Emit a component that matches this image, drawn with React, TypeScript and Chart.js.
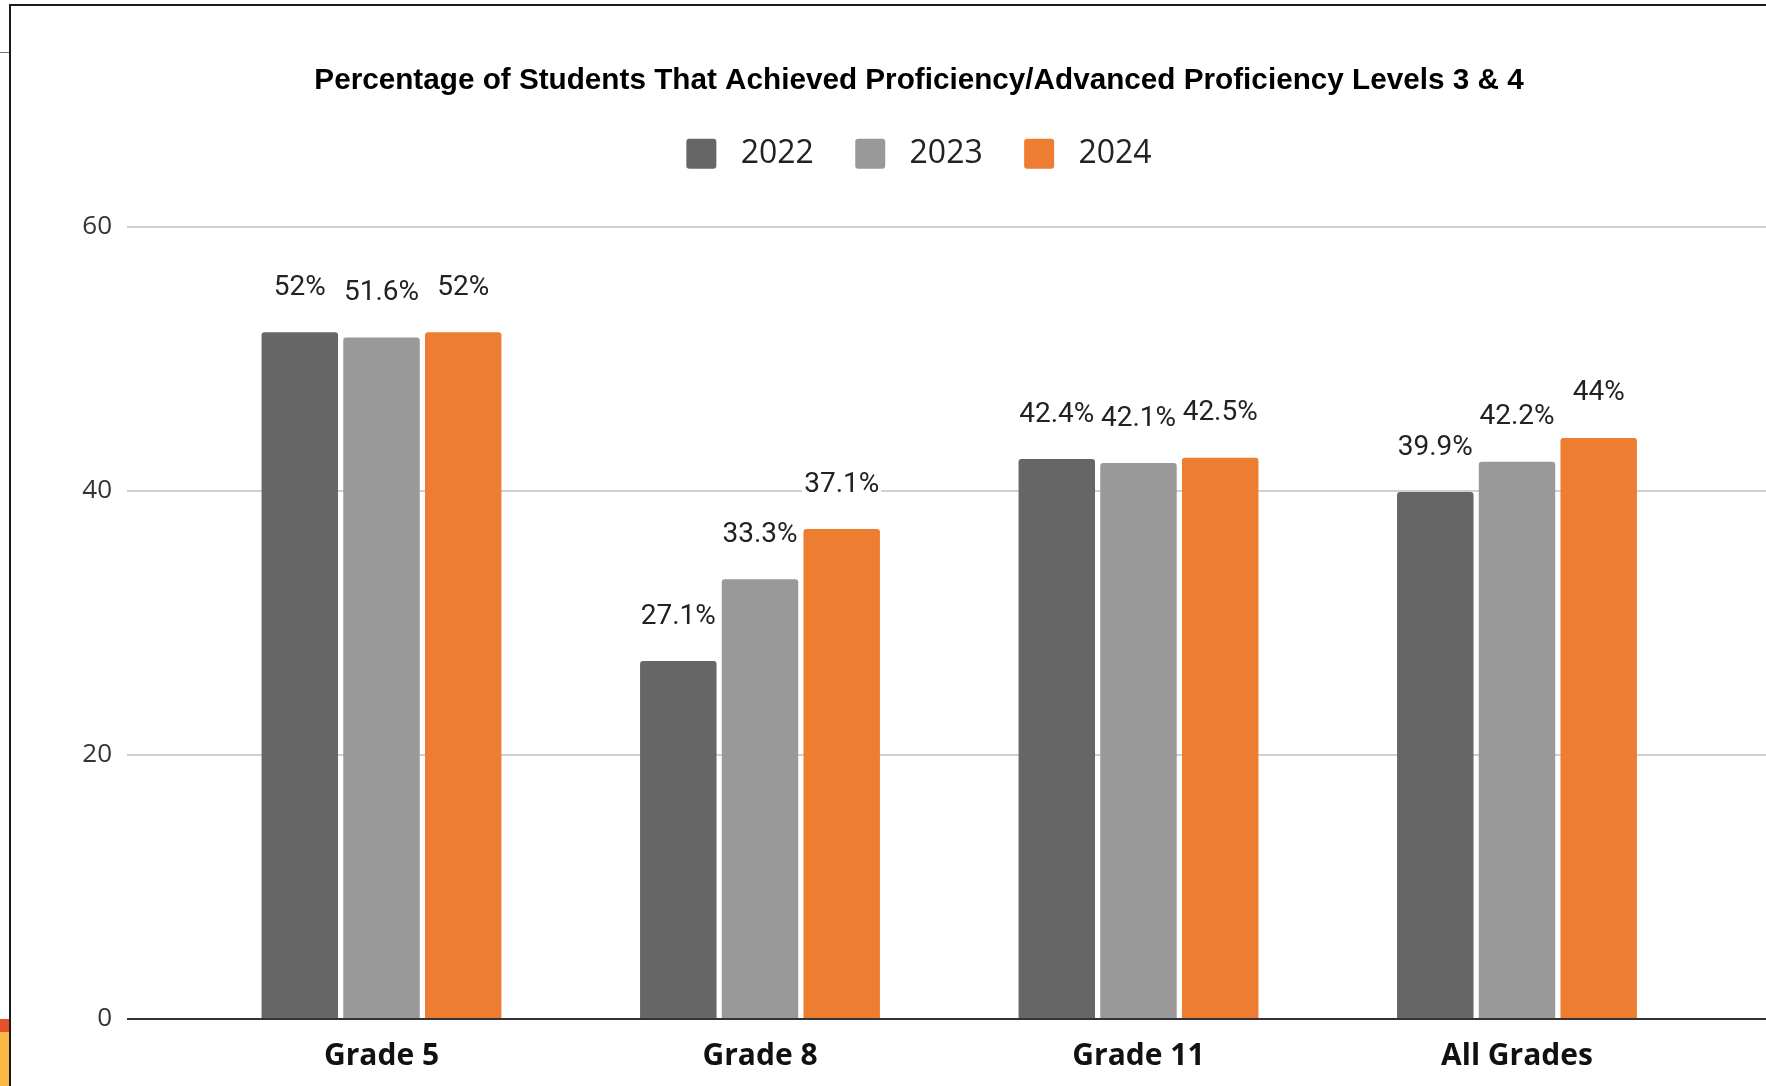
import React, { useEffect, useRef } from "react";
import { Chart, registerables } from "chart.js";

Chart.register(...registerables);

const chartTitle =
  "Percentage of Students That Achieved Proficiency/Advanced Proficiency Levels 3 & 4";
const categories = ["Grade 5", "Grade 8", "Grade 11", "All Grades"];
const seriesNames = ["2022", "2023", "2024"];
const values2022 = [52, 27.1, 42.4, 39.9];
const values2023 = [51.6, 33.3, 42.1, 42.2];
const values2024 = [52, 37.1, 42.5, 44];
const seriesColors = ["#666666", "#999999", "#ED7D31"];
const yTicks = [0, 20, 40, 60];

const allSeries = [values2022, values2023, values2024];

const legendSpacer = {
  id: "legendSpacer",
  beforeLayout(chart: any) {
    const lg = chart.legend;
    if (lg && !lg._patched) {
      const orig = lg.fit;
      lg.fit = function () {
        orig.call(this);
        this.height += 47;
      };
      lg._patched = true;
    }
  },
};

const dataLabels = {
  id: "dataLabels",
  afterDatasetsDraw(chart: any) {
    const ctx = chart.ctx;
    ctx.save();
    ctx.font = "28px Roboto";
    ctx.textAlign = "center";
    ctx.textBaseline = "middle";
    chart.data.datasets.forEach((ds: any, di: number) => {
      const meta = chart.getDatasetMeta(di);
      meta.data.forEach((el: any, i: number) => {
        const text = `${allSeries[di][i]}%`;
        const w = ctx.measureText(text).width;
        const y = el.y - 44.5;
        ctx.fillStyle = "#ffffff";
        ctx.fillRect(el.x - w / 2 - 2, y - 12, w + 4, 24);
        ctx.fillStyle = "#222222";
        ctx.fillText(text, el.x, y);
      });
    });
    ctx.restore();
  },
};

export default function App() {
  const ref = useRef<HTMLCanvasElement | null>(null);

  useEffect(() => {
    if (!ref.current) return;
    const chart = new Chart(ref.current, {
      type: "bar",
      data: {
        datasets: seriesNames.map((name, si) => ({
          label: name,
          data: categories.map((_, i) => ({ x: i, y: allSeries[si][i] })),
          backgroundColor: seriesColors[si],
          borderWidth: 0,
          borderRadius: 3,
          categoryPercentage: 0.6476,
          barPercentage: 0.936,
        })),
      },
      options: {
        responsive: false,
        animation: false,
        devicePixelRatio: 1,
        layout: { padding: 0 },
        plugins: {
          title: {
            display: true,
            text: chartTitle,
            color: "#000000",
            font: { family: "'Liberation Sans', Arial, sans-serif", weight: "bold", size: 29.7, lineHeight: 1.2 },
            padding: { top: 62.6, bottom: -2 },
          },
          legend: {
            display: true,
            position: "top",
            labels: {
              boxWidth: 30,
              boxHeight: 30,
              padding: 41.4,
              useBorderRadius: true,
              borderRadius: 3,
              color: "#222222",
              font: { family: "'Open Sans', sans-serif", size: 32 },
              generateLabels: (chart: any) =>
                Chart.defaults.plugins.legend.labels
                  .generateLabels(chart)
                  .map((l: any) => ({ ...l, text: " " + l.text })),
            },
          },
          tooltip: { enabled: false },
        },
        scales: {
          x: {
            type: "linear",
            offset: false,
            min: -0.6724,
            max: 3.8164,
            grid: { display: false, offset: false },
            border: { display: false },
            afterBuildTicks: (scale: any) => {
              scale.ticks = categories.map((_, i) => ({ value: i }));
            },
            afterFit: (scale: any) => {
              scale.height = 67;
            },
            ticks: {
              autoSkip: false,
              maxRotation: 0,
              padding: 11,
              color: "#111111",
              font: { family: "'Open Sans', sans-serif", weight: "bold", size: 30 },
              callback: (v: any) => categories[v as number] ?? "",
            },
          },
          y: {
            min: 0,
            max: 60,
            afterBuildTicks: (scale: any) => {
              scale.ticks = yTicks.map((v) => ({ value: v }));
            },
            afterFit: (scale: any) => {
              scale.width = 115;
            },
            border: { display: false },
            grid: {
              drawTicks: false,
              color: (c: any) => (c.tick && c.tick.value === 0 ? "#333333" : "#d0d0d0"),
              lineWidth: 2,
            },
            ticks: {
              padding: 15,
              color: "#333333",
              font: { family: "'Open Sans', sans-serif", size: 26 },
            },
          },
        },
      },
      plugins: [legendSpacer, dataLabels],
    } as any);
    return () => chart.destroy();
  }, []);

  return (
    <div
      style={{
        position: "fixed",
        left: 0,
        top: 0,
        width: 1766,
        height: 1086,
        overflow: "hidden",
        background: "#ffffff",
      }}
    >
      <canvas
        ref={ref}
        width={1814}
        height={1086}
        style={{ position: "absolute", left: 12, top: 0 }}
      />
      <div style={{ position: "absolute", left: 9, top: 4, width: 1757, height: 2, background: "#1a1a1a" }} />
      <div style={{ position: "absolute", left: 9, top: 4, width: 2, height: 1082, background: "#1a1a1a" }} />
      <div style={{ position: "absolute", left: 0, top: 52, width: 9, height: 1, background: "#777777" }} />
      <div style={{ position: "absolute", left: 0, top: 1019, width: 9, height: 13, background: "#E8502A" }} />
      <div style={{ position: "absolute", left: 0, top: 1032, width: 9, height: 54, background: "#FBB844" }} />
    </div>
  );
}
